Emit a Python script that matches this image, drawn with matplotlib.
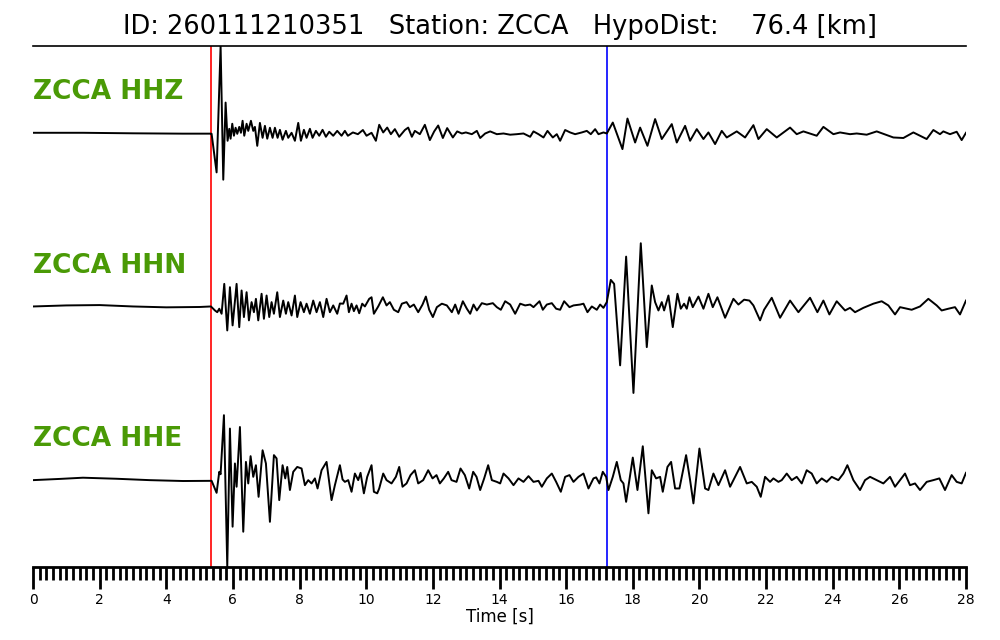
import numpy as np
import matplotlib
matplotlib.use('Agg')
import matplotlib.pyplot as plt
from matplotlib.ticker import MultipleLocator

# event / station info
event_id = '260111210351'
station = 'ZCCA'
hypo_dist = 76.4
p_pick = 5.34   # s
s_pick = 17.23  # s
channels = ['HHZ', 'HHN', 'HHE']

# normalised traces (time [s], amplitude)
z_t = [0.0, 1.5, 3.0, 4.5, 5.34, 5.36, 5.51, 5.63, 5.71, 5.78, 5.84, 5.89, 5.93, 5.98, 6.03, 6.08, 6.13, 6.19,
       6.24, 6.29, 6.34, 6.41, 6.46, 6.54, 6.61, 6.66, 6.73, 6.81, 6.89, 6.96, 7.03, 7.11, 7.19, 7.26, 7.34,
       7.41, 7.49, 7.59, 7.66, 7.76, 7.86, 7.96, 8.04, 8.13, 8.21, 8.31, 8.39, 8.49, 8.59, 8.69, 8.79, 8.89,
       9.01, 9.13, 9.26, 9.36, 9.45, 9.60, 9.75, 9.90, 10.01, 10.16, 10.29, 10.39, 10.51, 10.63, 10.74, 10.86,
       10.99, 11.16, 11.26, 11.37, 11.46, 11.61, 11.76, 11.91, 12.04, 12.16, 12.30, 12.43, 12.60, 12.73, 12.87,
       12.99, 13.17, 13.32, 13.42, 13.57, 13.72, 13.92, 14.12, 14.32, 14.52, 14.72, 14.92, 15.02, 15.17, 15.32,
       15.44, 15.60, 15.72, 15.82, 15.97, 16.12, 16.27, 16.47, 16.62, 16.74, 16.87, 16.97, 17.12, 17.22, 17.40,
       17.69, 17.84, 18.07, 18.22, 18.44, 18.67, 18.87, 19.17, 19.32, 19.57, 19.72, 19.92, 20.12, 20.27, 20.47,
       20.67, 20.82, 21.12, 21.37, 21.62, 21.77, 22.02, 22.32, 22.72, 22.92, 23.12, 23.52, 23.72, 24.02, 24.22,
       24.52, 24.72, 25.02, 25.32, 25.82, 26.12, 26.42, 26.82, 27.02, 27.22, 27.32, 27.52, 27.72, 27.87, 28.0]
z_amp = [0.0, 0.0, -0.003, -0.005, -0.005, -0.006, -0.228, 0.50, -0.27, 0.174, -0.046, 0.023, -0.034, 0.052,
         -0.017, 0.029, -0.006, 0.034, 0.0, 0.069, -0.017, 0.052, 0.011, 0.069, 0.011, 0.034, -0.075, 0.057,
         -0.029, 0.04, -0.034, 0.029, -0.029, 0.029, -0.029, 0.017, -0.04, 0.011, -0.029, 0.0, -0.046, 0.057,
         -0.046, 0.017, -0.029, 0.023, -0.029, 0.011, -0.017, 0.017, -0.023, 0.006, -0.017, 0.011, -0.017,
         0.011, -0.017, 0.002, -0.008, 0.016, -0.017, 0.0, -0.046, 0.046, 0.002, 0.03, -0.008, 0.021, -0.023,
         0.016, 0.03, -0.023, 0.011, -0.008, 0.046, -0.042, 0.008, 0.042, -0.03, 0.027, -0.027, 0.008, -0.004,
         0.002, -0.008, 0.011, -0.03, -0.004, 0.008, -0.008, -0.004, -0.011, -0.008, -0.004, -0.023, 0.008,
         -0.008, -0.027, 0.011, -0.027, -0.008, -0.046, 0.016, 0.002, -0.008, 0.002, 0.011, -0.008, 0.021,
         -0.008, 0.002, -0.004, 0.059, -0.094, 0.082, -0.056, 0.03, -0.075, 0.079, -0.036, 0.05, -0.056, 0.04,
         -0.046, 0.021, -0.036, 0.002, -0.065, 0.011, -0.027, 0.008, -0.027, 0.044, -0.036, 0.021, -0.027, 0.03,
         -0.008, 0.008, -0.017, 0.034, -0.008, 0.002, -0.008, -0.004, -0.011, 0.008, -0.027, -0.03, 0.002,
         -0.036, 0.016, -0.008, 0.008, -0.008, 0.006, -0.042, 0.0]

n_t = [0.0, 1.0, 2.0, 3.0, 4.0, 5.0, 5.34, 5.46, 5.53, 5.59, 5.66, 5.74, 5.83, 5.91, 5.99, 6.11, 6.19, 6.26,
       6.33, 6.41, 6.48, 6.56, 6.63, 6.69, 6.76, 6.86, 6.93, 7.01, 7.09, 7.16, 7.23, 7.33, 7.41, 7.51, 7.59,
       7.66, 7.76, 7.86, 7.93, 8.03, 8.13, 8.21, 8.31, 8.41, 8.51, 8.61, 8.71, 8.81, 8.91, 9.01, 9.13, 9.21,
       9.31, 9.41, 9.48, 9.56, 9.63, 9.71, 9.79, 9.88, 9.96, 10.09, 10.16, 10.23, 10.36, 10.50, 10.61, 10.71,
       10.83, 10.96, 11.07, 11.21, 11.31, 11.43, 11.56, 11.69, 11.79, 11.89, 12.00, 12.12, 12.27, 12.42, 12.57,
       12.67, 12.77, 12.90, 13.02, 13.12, 13.22, 13.32, 13.47, 13.62, 13.80, 13.92, 14.04, 14.17, 14.32, 14.47,
       14.62, 14.77, 14.92, 15.02, 15.20, 15.30, 15.42, 15.57, 15.70, 15.82, 15.94, 16.10, 16.22, 16.42, 16.52,
       16.64, 16.77, 16.92, 17.02, 17.12, 17.22, 17.34, 17.44, 17.62, 17.80, 18.02, 18.24, 18.42, 18.57, 18.67,
       18.77, 18.87, 18.94, 19.07, 19.20, 19.34, 19.44, 19.54, 19.62, 19.70, 19.80, 19.97, 20.12, 20.27, 20.40,
       20.54, 20.77, 21.02, 21.17, 21.34, 21.50, 21.62, 21.82, 21.94, 22.17, 22.42, 22.72, 22.97, 23.32, 23.54,
       23.72, 23.90, 24.12, 24.37, 24.52, 24.67, 24.92, 25.22, 25.47, 25.67, 25.87, 26.02, 26.37, 26.62, 26.87,
       27.12, 27.27, 27.47, 27.67, 27.82, 28.0]
n_amp = [0.0, 0.006, 0.008, 0.0, -0.005, -0.003, 0.0, -0.023, -0.033, -0.013, -0.042, 0.13, -0.138, 0.111,
         -0.109, 0.13, -0.119, 0.092, -0.061, 0.082, -0.08, 0.025, -0.033, 0.044, -0.08, 0.073, -0.071, 0.063,
         -0.061, 0.025, -0.042, 0.082, -0.061, 0.034, -0.042, 0.025, -0.052, 0.063, -0.061, 0.025, -0.033,
         0.016, -0.042, 0.034, -0.033, 0.025, -0.061, 0.044, -0.033, 0.006, -0.042, 0.017, 0.016, 0.063, -0.033,
         0.016, -0.027, 0.006, -0.039, 0.016, 0.0, 0.044, 0.053, -0.042, 0.0, 0.053, 0.006, 0.025, -0.019,
         -0.033, 0.016, 0.025, -0.004, 0.011, -0.033, 0.011, 0.057, -0.019, -0.061, -0.004, 0.016, 0.006,
         -0.033, 0.011, -0.042, 0.03, -0.013, -0.042, 0.011, -0.023, 0.019, 0.011, 0.019, -0.004, -0.019, 0.03,
         0.011, -0.042, 0.016, 0.006, 0.011, -0.004, 0.03, -0.019, 0.011, 0.019, -0.013, -0.019, 0.03, -0.004,
         0.006, 0.011, 0.016, -0.033, 0.0, -0.019, 0.011, -0.008, 0.025, 0.153, 0.13, -0.339, 0.287, -0.498,
         0.364, -0.234, 0.121, 0.025, -0.023, 0.025, -0.023, 0.063, -0.119, 0.073, -0.013, 0.016, -0.013, 0.053,
         -0.004, 0.057, -0.013, 0.073, -0.004, 0.053, -0.065, 0.044, 0.011, 0.039, 0.034, 0.006, -0.08, -0.019,
         0.05, -0.065, 0.034, -0.033, 0.05, -0.033, 0.034, -0.046, 0.03, -0.023, -0.008, -0.033, -0.008, 0.016,
         0.03, 0.006, -0.046, -0.004, -0.019, 0.0, 0.044, 0.006, -0.023, -0.013, -0.004, -0.046, 0.034]

e_t = [0.0, 0.8, 1.5, 2.5, 3.5, 4.5, 5.34, 5.36, 5.51, 5.59, 5.63, 5.73, 5.83, 5.91, 5.99, 6.06, 6.11, 6.21,
       6.31, 6.39, 6.46, 6.53, 6.61, 6.69, 6.77, 6.89, 6.99, 7.11, 7.23, 7.31, 7.39, 7.49, 7.57, 7.63, 7.71,
       7.81, 7.93, 8.06, 8.16, 8.26, 8.36, 8.46, 8.54, 8.66, 8.81, 8.96, 9.06, 9.21, 9.29, 9.36, 9.46, 9.56,
       9.66, 9.76, 9.83, 9.93, 10.03, 10.16, 10.23, 10.33, 10.39, 10.51, 10.61, 10.76, 10.89, 10.99, 11.09,
       11.21, 11.33, 11.46, 11.56, 11.71, 11.86, 11.99, 12.11, 12.21, 12.33, 12.46, 12.56, 12.71, 12.83, 12.96,
       13.09, 13.21, 13.31, 13.42, 13.54, 13.66, 13.77, 13.92, 14.02, 14.12, 14.27, 14.42, 14.57, 14.72, 14.87,
       15.02, 15.17, 15.27, 15.42, 15.57, 15.70, 15.84, 15.97, 16.10, 16.22, 16.37, 16.52, 16.67, 16.82, 16.90,
       17.00, 17.10, 17.20, 17.27, 17.40, 17.52, 17.64, 17.72, 17.80, 18.00, 18.14, 18.30, 18.47, 18.57, 18.70,
       18.82, 18.90, 19.04, 19.15, 19.27, 19.40, 19.60, 19.72, 19.82, 20.00, 20.17, 20.27, 20.42, 20.57, 20.77,
       20.92, 21.22, 21.42, 21.57, 21.72, 21.84, 21.97, 22.12, 22.22, 22.37, 22.47, 22.62, 22.77, 22.92, 23.07,
       23.22, 23.37, 23.52, 23.67, 23.82, 23.97, 24.17, 24.32, 24.44, 24.62, 24.82, 24.97, 25.12, 25.32, 25.52,
       25.72, 25.87, 26.02, 26.17, 26.32, 26.47, 26.62, 26.82, 27.02, 27.20, 27.37, 27.57, 27.72, 27.87, 28.0]
e_amp = [0.0, 0.007, 0.014, 0.008, 0.0, -0.005, -0.004, -0.004, -0.073, 0.048, 0.034, 0.374, -0.498, 0.297,
         -0.268, 0.096, -0.038, 0.306, -0.297, 0.105, -0.019, 0.138, 0.019, 0.086, -0.096, 0.172, 0.096, -0.24,
         0.144, 0.125, -0.115, 0.086, 0.01, 0.076, -0.057, 0.048, 0.076, 0.067, -0.029, 0.0, -0.019, 0.01,
         -0.048, 0.057, 0.105, -0.115, -0.029, 0.086, 0.004, -0.01, 0.0, -0.067, 0.038, 0.0, 0.042, -0.076,
         0.019, 0.086, -0.067, -0.076, -0.048, 0.038, 0.0, -0.019, 0.019, 0.076, -0.038, -0.019, 0.029, 0.057,
         -0.019, 0.0, 0.057, 0.01, 0.029, -0.019, 0.01, 0.048, 0.0, -0.01, 0.067, 0.029, -0.048, 0.048, 0.019,
         -0.057, 0.01, 0.086, 0.0, -0.01, -0.019, 0.038, 0.01, -0.029, 0.01, -0.01, 0.023, -0.01, -0.004,
         -0.038, 0.01, 0.038, -0.01, -0.067, 0.019, 0.029, -0.01, 0.019, 0.038, -0.048, 0.01, 0.016, -0.019,
         0.048, 0.019, -0.057, 0.019, 0.105, 0.0, -0.019, -0.125, 0.13, -0.057, 0.195, -0.191, 0.057, 0.01,
         0.019, -0.067, 0.076, 0.105, -0.048, -0.048, 0.144, 0.0, -0.134, 0.182, -0.048, -0.057, 0.038, -0.029,
         0.057, -0.038, 0.076, -0.019, -0.01, -0.038, -0.096, 0.019, -0.01, 0.01, -0.01, 0.0, 0.038, 0.0, 0.019,
         -0.019, 0.057, 0.038, -0.019, 0.01, -0.01, 0.019, 0.0, 0.038, 0.086, 0.0, -0.057, 0.0, 0.019, 0.0,
         -0.019, 0.019, -0.038, 0.0, 0.038, -0.029, -0.019, -0.057, -0.01, 0.0, 0.01, -0.057, 0.029, -0.01,
         -0.019, 0.042]

traces = [(z_t, z_amp), (n_t, n_amp), (e_t, e_amp)]
offsets = [2, 1, 0]

fig = plt.figure(figsize=(10, 6.4), dpi=100)
ax = fig.add_axes([0.033, 0.1141, 0.933, 0.8141])

ax.axvline(p_pick, color='red', lw=1.2, zorder=1)
ax.axvline(s_pick, color='blue', lw=1.2, zorder=1)

for (t, a), off, ch in zip(traces, offsets, channels):
    ax.plot(t, np.array(a) + off, color='k', lw=1.4, zorder=2, solid_joinstyle='round')
    ax.text(0.0, off + 0.235, f'{station} {ch}', color='#4a9a06', fontsize=19,
            fontweight='bold', ha='left', va='center')

ax.set_xlim(0, 28)
ax.set_ylim(-0.5, 2.5)
ax.set_yticks([])
ax.spines['left'].set_visible(False)
ax.spines['right'].set_visible(False)
ax.spines['top'].set_linewidth(1.2)
ax.spines['bottom'].set_linewidth(2)
ax.xaxis.set_major_locator(MultipleLocator(2))
ax.xaxis.set_minor_locator(MultipleLocator(0.2))
ax.tick_params(axis='x', which='major', length=16, width=2, labelsize=10, pad=3)
ax.tick_params(axis='x', which='minor', length=9, width=2)
ax.set_xlabel('Time [s]', fontsize=12, labelpad=0)

fig.text(0.5, 0.958, f'ID: {event_id}   Station: {station}   HypoDist:    {hypo_dist} [km]',
         ha='center', va='center', fontsize=18.5)

fig.savefig('out.png', dpi=100)
